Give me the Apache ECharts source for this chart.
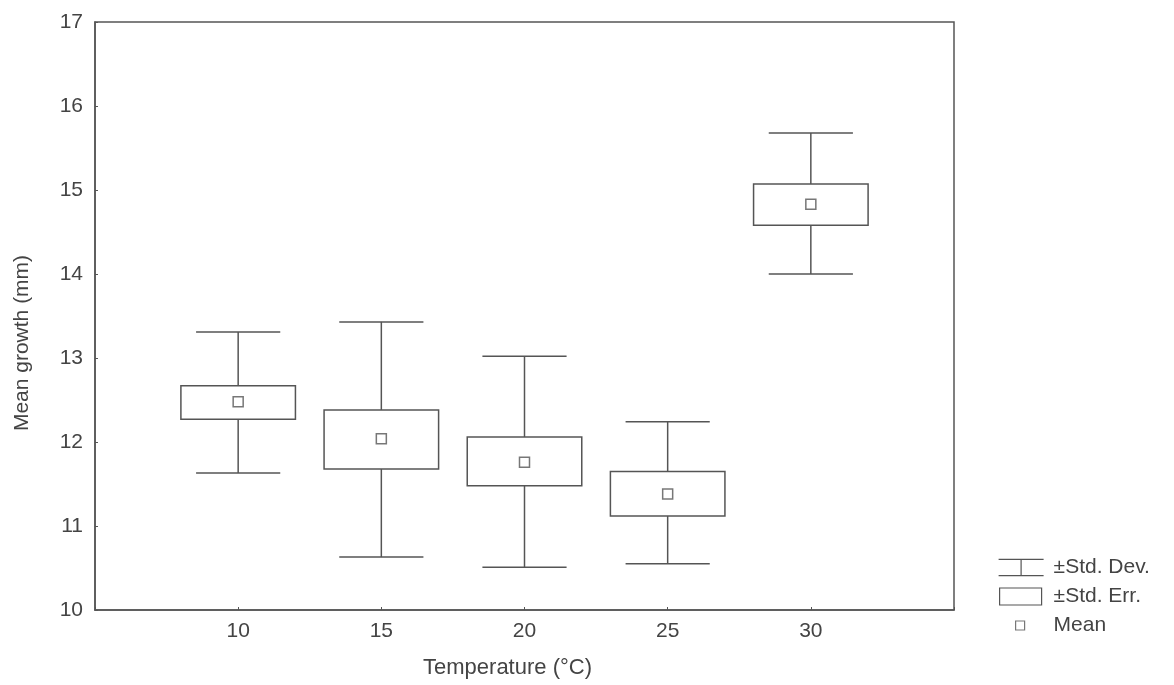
<!DOCTYPE html>
<html lang="en">
<head>
  <meta charset="UTF-8">
  <title>Mean growth</title>
  <style>
    html, body { margin: 0; padding: 0; background: #fff; }
  </style>
</head>
<body>
  <div id="chart" style="width: 1174px; height: 685px;"></div>

<script src="https://cdn.jsdelivr.net/npm/echarts@6/dist/echarts.min.js"></script>

<script>
  // values
  const temps = [10, 15, 20, 25, 30];
  const meanVals = [12.48, 12.04, 11.76, 11.38, 14.83];
  const seLow = [12.27, 11.68, 11.48, 11.12, 14.58];
  const seHigh = [12.67, 12.38, 12.06, 11.65, 15.07];
  const sdLow = [11.63, 10.63, 10.51, 10.55, 14.0];
  const sdHigh = [13.31, 13.43, 13.02, 12.24, 15.68];

  const ink = '#555';
  const txt = '#444';
  const boxHalf = 2.0;   // in x-axis units
  const capHalf = 1.47;

  const myChart = echarts.init(document.getElementById('chart'));

  const whiskerData = temps.map((t, i) => [t, sdLow[i], sdHigh[i]]);
  const boxData = temps.map((t, i) => [t, seLow[i], seHigh[i]]);
  const meanData = temps.map((t, i) => [t, meanVals[i]]);

  function renderWhisker(params, api) {
    const x = api.value(0);
    const lo = api.coord([x, api.value(1)]);
    const hi = api.coord([x, api.value(2)]);
    const w = api.size([capHalf, 0])[0];
    const style = { stroke: ink, lineWidth: 1.5, fill: null };
    return {
      type: 'group',
      children: [
        { type: 'line', shape: { x1: lo[0], y1: lo[1], x2: hi[0], y2: hi[1] }, style },
        { type: 'line', shape: { x1: hi[0] - w, y1: hi[1], x2: hi[0] + w, y2: hi[1] }, style },
        { type: 'line', shape: { x1: lo[0] - w, y1: lo[1], x2: lo[0] + w, y2: lo[1] }, style }
      ]
    };
  }

  function renderBox(params, api) {
    const x = api.value(0);
    const lo = api.coord([x, api.value(1)]);
    const hi = api.coord([x, api.value(2)]);
    const w = api.size([boxHalf, 0])[0];
    return {
      type: 'rect',
      shape: { x: hi[0] - w, y: hi[1], width: 2 * w, height: lo[1] - hi[1] },
      style: { stroke: ink, lineWidth: 1.5, fill: '#fff' }
    };
  }

  const option = {
    backgroundColor: '#fff',
    textStyle: { fontFamily: 'Liberation Sans, Arial, sans-serif' },
    animation: false,
    grid: {
      left: 95,
      right: 220,
      top: 22,
      bottom: 75,
      show: true,
      borderColor: ink,
      borderWidth: 1.5
    },
    legend: {
      orient: 'vertical',
      left: 993,
      top: 552,
      itemWidth: 45,
      itemHeight: 18,
      itemGap: 8,
      selectedMode: false,
      textStyle: { fontSize: 21, color: txt, padding: [0, 0, 0, 5] },
      itemStyle: { color: 'transparent', borderColor: ink, borderWidth: 1.2 },
      data: [
        { name: '±Std. Dev.', icon: 'path://M0,1 L44,1 M22,1 L22,17 M0,17 L44,17' },
        { name: '±Std. Err.', icon: 'path://M0,0 M45,18 M1,0.5 L43,0.5 L43,17.5 L1,17.5 Z' },
        { name: 'Mean', icon: 'path://M0,0 M45,18 M17,4.5 L26,4.5 L26,13.5 L17,13.5 Z' }
      ]
    },
    xAxis: {
      type: 'value',
      min: 5,
      max: 35,
      interval: 5,
      name: 'Temperature (°C)',
      nameLocation: 'middle',
      nameGap: 47,
      nameTextStyle: { fontSize: 22, color: txt, padding: [0, 34, 0, 0] },
      axisLine: { lineStyle: { color: ink, width: 1.5 } },
      axisTick: { inside: true, length: 3, lineStyle: { color: ink } },
      axisLabel: {
        fontSize: 21,
        color: txt,
        margin: 11,
        formatter: v => (v === 5 || v === 35 ? '' : String(v))
      },
      splitLine: { show: false }
    },
    yAxis: {
      type: 'value',
      min: 10,
      max: 17,
      interval: 1,
      name: 'Mean growth (mm)',
      nameLocation: 'middle',
      nameGap: 62,
      nameTextStyle: { fontSize: 21, color: txt, padding: [0, 54, 0, 0] },
      axisLine: { show: true, lineStyle: { color: ink, width: 1.5 } },
      axisTick: { show: true, inside: true, length: 3, lineStyle: { color: ink } },
      axisLabel: { fontSize: 21, color: txt, margin: 12 },
      splitLine: { show: false }
    },
    series: [
      {
        name: '±Std. Dev.',
        type: 'custom',
        renderItem: renderWhisker,
        encode: { x: 0, y: [1, 2] },
        data: whiskerData,
        z: 2
      },
      {
        name: '±Std. Err.',
        type: 'custom',
        renderItem: renderBox,
        encode: { x: 0, y: [1, 2] },
        data: boxData,
        z: 3
      },
      {
        name: 'Mean',
        type: 'scatter',
        symbol: 'rect',
        symbolSize: 10,
        itemStyle: { color: '#fff', borderColor: ink, borderWidth: 1.5 },
        data: meanData,
        z: 4
      }
    ]
  };

  myChart.setOption(option);
</script>
</body>
</html>
